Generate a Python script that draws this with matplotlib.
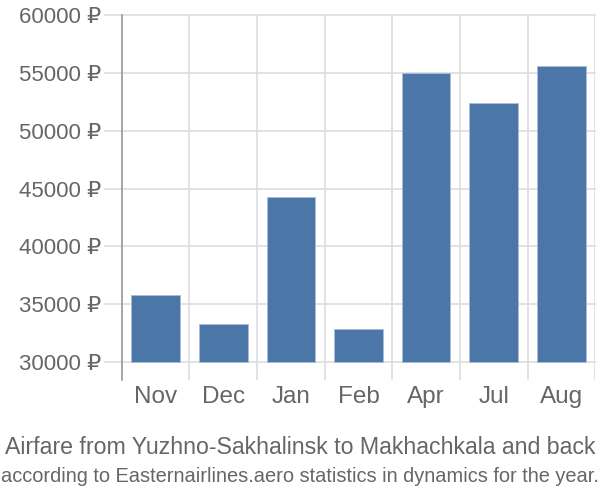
import matplotlib
matplotlib.use("Agg")
import matplotlib.pyplot as plt
import numpy as np

# months and average airfare (rub)
months = ["Nov", "Dec", "Jan", "Feb", "Apr", "Jul", "Aug"]
prices = [35800, 33300, 44300, 32850, 54950, 52400, 55550]
yticks = [30000, 35000, 40000, 45000, 50000, 55000, 60000]

base = 30000
txt = "#666666"

plt.rcParams['font.family'] = ['Liberation Sans', 'DejaVu Sans']

fig = plt.figure(figsize=(6, 5), dpi=100)
ax = fig.add_axes([0.203, 0.24, 0.789, 0.73])

x = np.arange(len(months))
ax.bar(x, np.array(prices) - base, bottom=base, width=0.72, color="#4a76a8",
       edgecolor="#a9bdd6", linewidth=0.6, zorder=3)

ax.set_xlim(-0.5, len(months) - 0.5)
ax.set_ylim(28450, 60000)
ax.set_yticks(yticks)
ax.set_yticklabels([f"{v} ₽" for v in yticks], fontsize=16, color=txt)
ax.set_xticks(x)
ax.set_xticklabels(months, fontsize=17.5, color=txt)

# grid: horizontal at ticks, vertical at category borders
for v in yticks:
    ax.axhline(v, color="#dddddd", linewidth=1.2, zorder=1, xmin=-0.036, clip_on=False)
for b in np.arange(-0.5, len(months), 1.0):
    ax.axvline(b, color="#dddddd", linewidth=1.2, zorder=1)

for s in ["top", "right", "bottom"]:
    ax.spines[s].set_visible(False)
ax.spines["left"].set_color("#999999")
ax.spines["left"].set_linewidth(1.2)
ax.tick_params(axis="x", length=0, pad=4)
ax.tick_params(axis="y", length=0, pad=15)

fig.text(0.5, 0.093, "Airfare from Yuzhno-Sakhalinsk to Makhachkala and back",
         ha="center", fontsize=16.7, color=txt)
fig.text(0.5, 0.035, "according to Easternairlines.aero statistics in dynamics for the year.",
         ha="center", fontsize=14.4, color=txt, family=['Liberation Sans Narrow', 'Liberation Sans'])

fig.savefig("out.png", dpi=100)
